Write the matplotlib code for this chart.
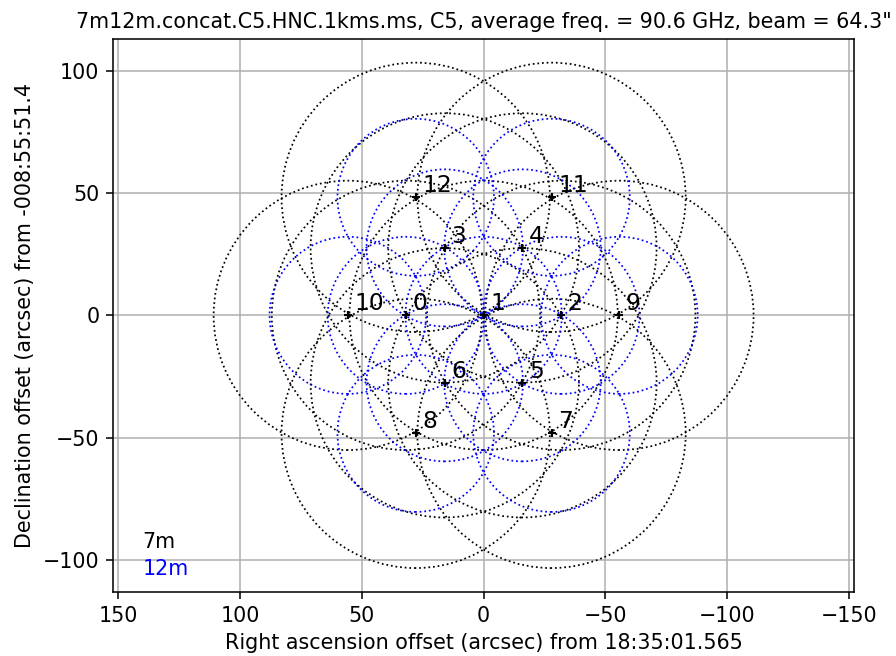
import matplotlib
matplotlib.use("Agg")
import matplotlib.pyplot as plt
from matplotlib.patches import Circle

# pointing offsets (arcsec) per field id
field_ids = [0, 1, 2, 3, 4, 5, 6, 7, 8, 9, 10, 11, 12]
ra_off = [31.9, 0.0, -31.9, 15.95, -15.95, -15.95, 15.95, -27.9, 27.9, -55.8, 55.8, -27.9, 27.9]
dec_off = [0.0, 0.0, 0.0, 27.6, 27.6, -27.6, -27.6, -48.3, -48.3, 0.0, 0.0, 48.3, 48.3]

beam_12m = 64.3                     # FWHM arcsec
beam_7m = beam_12m * 12.0 / 7.0

title = '7m12m.concat.C5.HNC.1kms.ms, C5, average freq. = 90.6 GHz, beam = 64.3"'
xlab = "Right ascension offset (arcsec) from 18:35:01.565"
ylab = "Declination offset (arcsec) from -008:55:51.4"

plt.rcParams["xtick.labelsize"] = 10.6
plt.rcParams["ytick.labelsize"] = 10.6

fig = plt.figure(figsize=(6.4, 656 / 140), dpi=140)
ax = fig.add_axes([0.126, 0.0976, 0.8275, 0.8426])

for x, y in zip(ra_off, dec_off):
    ax.add_patch(Circle((x, y), beam_7m / 2, fill=False, ec="black", ls=":", lw=0.9))
for x, y in zip(ra_off, dec_off):
    ax.add_patch(Circle((x, y), beam_12m / 2, fill=False, ec="blue", ls=":", lw=0.9))

ax.plot(ra_off, dec_off, "k+", ms=4.5, mew=1.1)
for fid, x, y in zip(field_ids, ra_off, dec_off):
    ax.annotate(str(fid), (x, y), xytext=(3.3, 0), textcoords="offset points",
                fontsize=12, ha="left", va="bottom")

ax.text(0.04, 0.08, "7m", transform=ax.transAxes, fontsize=10.6, color="black")
ax.text(0.04, 0.03, "12m", transform=ax.transAxes, fontsize=10.6, color="blue")

ax.set_xlim(152.3, -152.3)
ax.set_ylim(-113.2, 113.0)
ax.grid(True)
ax.set_axisbelow(True)
ax.set_title(title, fontsize=10.6)
ax.set_xlabel(xlab, fontsize=10.6)
ax.set_ylabel(ylab, fontsize=10.6)

fig.savefig("out.png", dpi=140)
